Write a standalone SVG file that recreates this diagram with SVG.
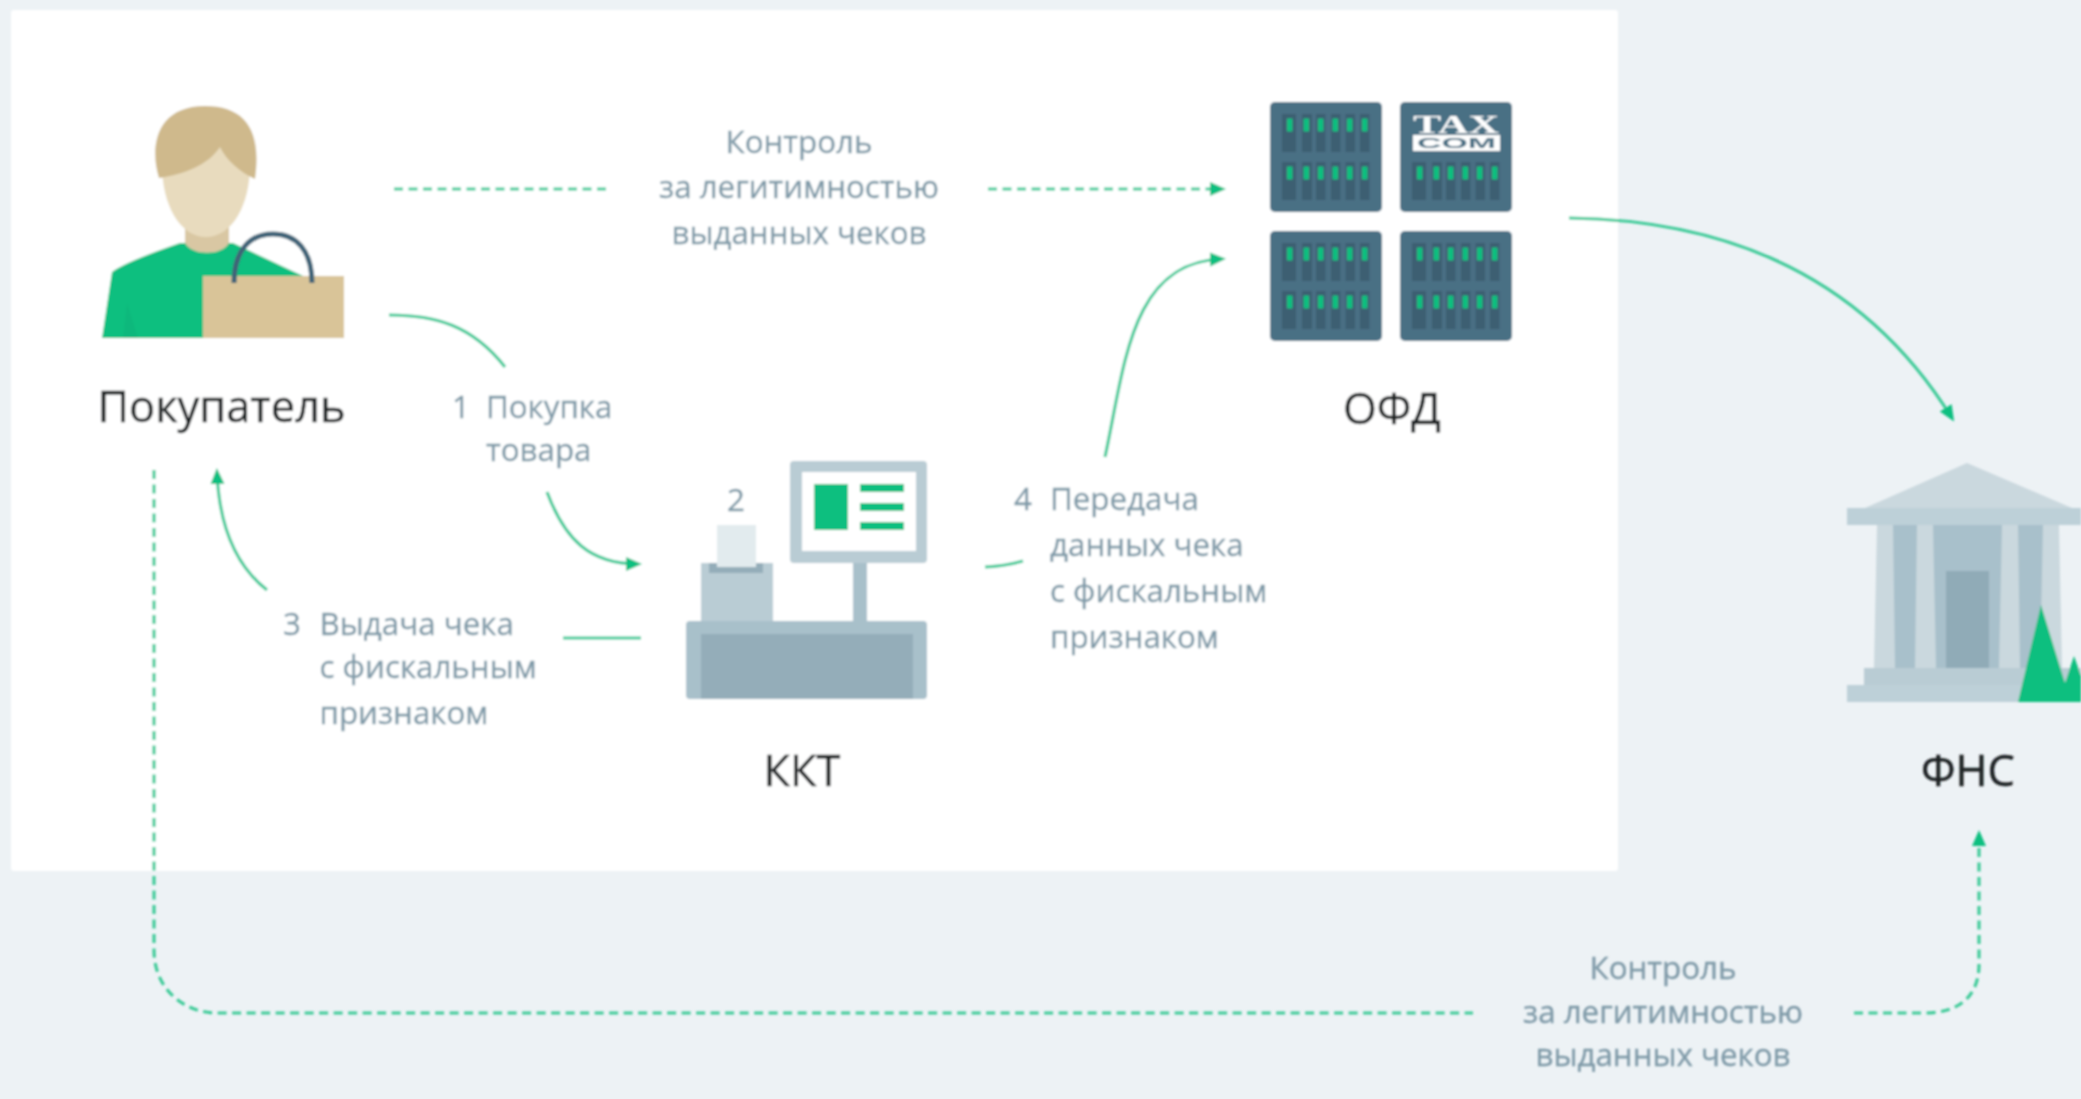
<svg xmlns="http://www.w3.org/2000/svg" xmlns:xlink="http://www.w3.org/1999/xlink" width="2081" height="1099" viewBox="0 0 2081 1099">
<style>
.title{font-family:"Open Sans","Noto Sans",sans-serif;font-size:43.4px;fill:#1c2024;stroke:#1c2024;stroke-width:.4px}
.label{font-family:"Open Sans","Noto Sans",sans-serif;font-size:31.3px;fill:#7f9aa8;stroke:#7f9aa8;stroke-width:.35px}
.mid{text-anchor:middle}
.line{fill:none;stroke:#3fcb99;stroke-width:3.2}
.dash{stroke-dasharray:9 5.5}
.rack{fill:#4a6f84}
.slot{fill:#3c5e72}
.led{fill:#0dbf7f}
</style>
<defs>
<filter id="soft" filterUnits="userSpaceOnUse" x="0" y="0" width="2081" height="1099"><feGaussianBlur stdDeviation="0.9"/></filter>
<marker id="arrow" markerUnits="userSpaceOnUse" markerWidth="18" markerHeight="16" refX="12" refY="7" orient="auto"><path d="M0 0L16 7L0 14z" fill="#10bf80"/></marker>
<g id="slots">
<rect class="slot" x="12" y="0" width="14" height="38"/><rect class="slot" x="32" y="0" width="10" height="38"/><rect class="slot" x="46" y="0" width="9.5" height="38"/><rect class="slot" x="61" y="0" width="9.5" height="38"/><rect class="slot" x="75.500" y="0" width="9.500" height="38"/><rect class="slot" x="90" y="0" width="9.500" height="38"/>
<rect class="led" x="17" y="4.500" width="5.500" height="13"/><rect class="led" x="33.500" y="4.500" width="5.500" height="13"/><rect class="led" x="48" y="4.500" width="5.500" height="13"/><rect class="led" x="62.500" y="4.500" width="5.500" height="13"/><rect class="led" x="77" y="4.500" width="5.500" height="13"/><rect class="led" x="92" y="4.500" width="5.500" height="13"/>
</g>
</defs>
<rect width="2081" height="1099" fill="#edf2f5"/>
<g filter="url(#soft)">
<rect id="panel" x="11" y="10" width="1607" height="861" rx="3" fill="#fff"/>

<g id="connectors">
<path class="line dash" d="M394 189H608"/>
<path class="line dash" d="M988 189H1222" marker-end="url(#arrow)"/>
<path class="line" d="M389 315C435 315 472 325 505 367"/>
<path class="line" d="M547 492C565 540 590 564 638 564" marker-end="url(#arrow)"/>
<path class="line" d="M641 638H563"/>
<path class="line" d="M267 590C235 565 219 525 217 472" marker-end="url(#arrow)"/>
<path class="line" d="M985 567Q1005 566 1023 561"/>
<path class="line" d="M1105 457C1125 365 1130 262 1222 259" marker-end="url(#arrow)"/>
<path class="line" d="M1569 218C1720 220 1860 270 1952 418" marker-end="url(#arrow)"/>
<path class="line dash" d="M154 470V950C154 990 185 1013 217 1013H1473"/>
<path class="line dash" d="M1854 1013H1925C1960 1013 1979 995 1979 965V834" marker-end="url(#arrow)"/>
</g>

<g id="buyer">
<path d="M180 243L233 243L303 276L344 338H102L112 272Q125 262 180 243Z" fill="#0dbf7f"/>
<path d="M127 303L123 338H138Z" fill="#0cb87b"/>
<path d="M185 225H229V243C222 256 192 256 185 243Z" fill="#d9c7a3"/>
<path d="M162 135H250V165C250 205 232 237 206 237C180 237 162 205 162 165Z" fill="#e8dbbe"/>
<path d="M159 178C150 150 154 106 205 106C245 106 262 130 255 179C240 172 226 160 220 147C208 165 185 174 159 178Z" fill="#cfb98c"/>
<rect x="203" y="276" width="141" height="62" fill="#d9c498"/>
<path d="M234 283C234 250 250 234 273 234C296 234 312 250 312 283" fill="none" stroke="#3f6478" stroke-width="5"/>
<text class="title" x="97.500" y="422">Покупатель</text>
</g>

<g id="kkt">
<rect x="790" y="461" width="137" height="102" rx="4" fill="#b9ccd4"/>
<rect x="802" y="472" width="114" height="79" fill="#fff"/>
<rect x="814" y="484" width="34" height="46" fill="#0dbf7f"/>
<rect x="860" y="484" width="44" height="8" fill="#0dbf7f"/>
<rect x="860" y="503" width="44" height="8" fill="#0dbf7f"/>
<rect x="860" y="522" width="44" height="8" fill="#0dbf7f"/>
<rect x="853" y="563" width="14" height="60" fill="#a8c0ca"/>
<rect x="701" y="563" width="72" height="60" fill="#b9ccd4"/>
<rect x="709" y="563" width="54" height="10" fill="#94adb9"/>
<rect x="717" y="525" width="39" height="42" fill="#e2ebee"/>
<rect x="686" y="621" width="241" height="78" rx="4" fill="#a8c0ca"/>
<rect x="701" y="634" width="212" height="65" fill="#94adb9"/>
<text class="label mid" x="736" y="511">2</text>
<text class="title mid" x="802" y="786">ККТ</text>
</g>

<g id="ofd">
<rect class="rack" x="1270" y="102" width="112" height="110" rx="5"/>
<rect class="rack" x="1400" y="102" width="112" height="110" rx="5"/>
<rect class="rack" x="1270" y="231" width="112" height="110" rx="5"/>
<rect class="rack" x="1400" y="231" width="112" height="110" rx="5"/>
<use href="#slots" x="1270" y="114"/><use href="#slots" x="1270" y="162"/>
<use href="#slots" x="1400" y="162"/>
<use href="#slots" x="1270" y="243"/><use href="#slots" x="1270" y="291"/>
<use href="#slots" x="1400" y="243"/><use href="#slots" x="1400" y="291"/>
<text x="1413" y="133" textLength="86" lengthAdjust="spacingAndGlyphs" font-family="Liberation Serif,serif" font-weight="700" font-size="26" fill="#fff">TAX</text>
<rect x="1413" y="135" width="87" height="16" fill="#fff"/>
<text x="1417" y="148" textLength="79" lengthAdjust="spacingAndGlyphs" font-family="Liberation Sans,sans-serif" font-weight="700" font-size="14" fill="#4a6f84">COM</text>
<text class="title mid" x="1392" y="424">ОФД</text>
</g>

<g id="fns">
<path d="M1967 463L2072 508H1865Z" fill="#cad8de"/>
<rect x="1847" y="508" width="234" height="17" fill="#bdd0d8"/>
<rect x="1890" y="525" width="156" height="143" fill="#a8c0cb"/>
<path d="M1877 525H1893L1895 668H1874Z" fill="#cad8de"/>
<path d="M1917 525H1933L1936 668H1915Z" fill="#cad8de"/>
<path d="M2002 525H2018L2020 668H1999Z" fill="#cad8de"/>
<path d="M2043 525H2059L2062 668H2040Z" fill="#cad8de"/>
<rect x="1946" y="571" width="43" height="97" fill="#90abb7"/>
<rect x="1864" y="668" width="217" height="17" fill="#b9ccd4"/>
<rect x="1847" y="685" width="234" height="17" fill="#bdd0d8"/>
<path d="M2018 702L2041 605L2065 683L2074 656L2081 676V702Z" fill="#0dbf7f"/>
<text class="title mid" x="1968" y="786">ФНС</text>
</g>

<g id="labels">
<text class="label mid" x="799" y="153">Контроль</text>
<text class="label mid" x="799" y="198">за легитимностью</text>
<text class="label mid" x="799" y="244">выданных чеков</text>
<text class="label" x="452" y="418">1</text>
<text class="label" x="486" y="418">Покупка</text>
<text class="label" x="486" y="461">товара</text>
<text class="label" x="283" y="635">3</text>
<text class="label" x="319.500" y="635">Выдача чека</text>
<text class="label" x="319.500" y="678">с фискальным</text>
<text class="label" x="319.500" y="724">признаком</text>
<text class="label" x="1014" y="510">4</text>
<text class="label" x="1050" y="510">Передача</text>
<text class="label" x="1050" y="556">данных чека</text>
<text class="label" x="1050" y="602">с фискальным</text>
<text class="label" x="1050" y="648">признаком</text>
<text class="label mid" x="1663" y="979">Контроль</text>
<text class="label mid" x="1663" y="1023">за легитимностью</text>
<text class="label mid" x="1663" y="1066">выданных чеков</text>
</g>
</g>
</svg>
